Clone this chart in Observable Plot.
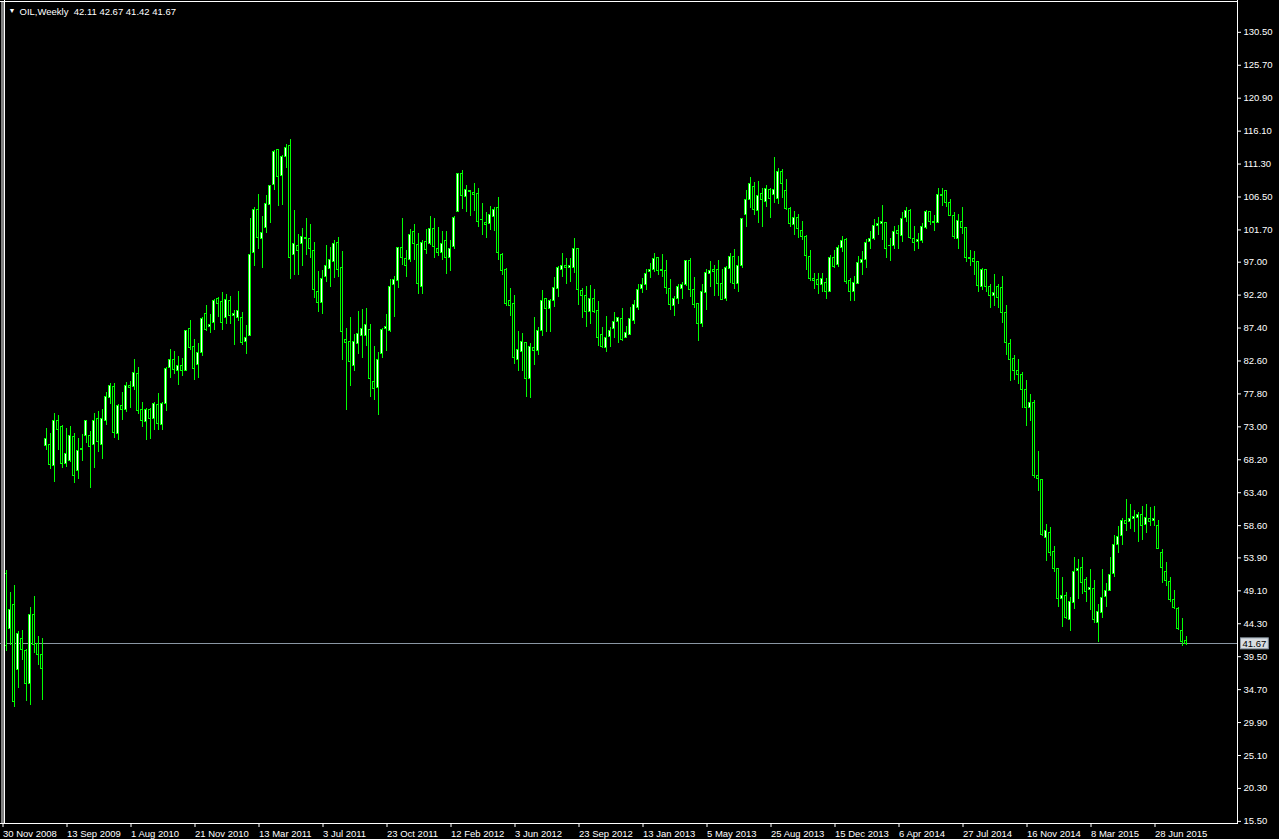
<!DOCTYPE html>
<html><head><meta charset="utf-8">
<script src="https://cdn.jsdelivr.net/npm/d3@7"></script>
<script src="https://cdn.jsdelivr.net/npm/@observablehq/plot@0.6"></script>
<style>
html,body{margin:0;padding:0;background:#000;}
#chart{width:1279px;height:839px;overflow:hidden;}
</style></head><body><div id="chart"></div>
<script>
// ---- data (weekly OIL candles, one per bar slot) ----
const opens = [51.9,43.9,47.3,37.8,42.4,40.6,35.8,45.8,41.7,40.1,
70.5,70.7,67.6,74.2,73.2,67.9,68.3,71.8,66.8,69.9,72.0,71.9,70.7,74.5,70.6,74.1,77.5,79.1,72.2,76.4,
75.8,79.2,79.1,81.0,75.7,74.0,75.7,74.5,76.5,73.6,76.6,81.9,83.1,81.4,82.2,81.5,87.5,85.0,82.3,84.0,
89.7,87.8,88.4,91.9,91.5,89.2,91.6,89.5,89.2,89.2,85.6,86.5,98.6,104.9,100.7,102.2,105.6,108.6,113.6,109.8,
112.6,114.2,98.3,99.6,100.0,100.8,100.7,98.9,93.0,91.3,95.1,96.3,97.3,100.1,96.5,86.0,85.7,82.1,85.3,86.5,
86.6,87.4,79.8,79.0,83.9,87.6,87.2,93.9,94.6,99.4,97.8,97.6,101.7,99.8,93.7,100.2,99.9,102.1,99.2,98.6,
100.4,97.9,99.5,104.6,110.1,106.8,107.6,107.4,107.2,103.4,103.0,102.9,103.9,105.2,98.3,96.1,91.6,91.2,83.1,84.2,
85.5,80.3,84.8,84.4,87.2,91.9,90.4,91.6,93.4,96.2,96.8,96.4,96.5,99.2,93.1,92.3,90.0,91.9,90.2,86.7,
84.8,86.4,87.5,88.5,89.0,86.2,86.7,88.7,90.6,93.4,93.9,95.8,96.2,97.9,96.0,96.0,93.4,90.9,91.9,93.4,
93.9,97.5,93.3,91.2,88.3,92.8,95.6,96.2,96.2,94.1,91.9,96.3,98.1,94.1,96.7,104.2,106.3,108.3,104.7,107.2,
106.0,107.8,107.1,106.5,110.5,107.6,105.1,102.7,103.7,101.8,101.0,98.1,94.9,94.7,94.0,94.3,92.9,97.9,96.9,99.4,
100.5,94.5,92.9,94.1,97.1,97.6,100.2,100.6,102.6,102.8,103.0,99.6,99.7,101.9,101.1,103.8,104.7,100.7,100.2,100.4,
102.3,104.6,103.2,103.0,107.1,107.6,105.9,104.0,100.7,103.1,102.2,97.9,97.7,97.3,93.7,96.1,93.7,92.3,93.7,93.6,
89.9,85.4,83.2,81.5,80.8,78.7,76.0,76.8,66.2,65.6,57.1,57.8,55.1,52.6,48.2,48.6,45.2,47.6,52.3,52.7,
50.9,49.5,49.7,44.7,46.1,48.5,49.4,51.9,56.1,57.4,59.5,59.4,59.8,60.0,60.4,59.0,59.9,59.5,58.8,54.9,
52.2,50.7,48.0,46.7,43.6,42.11];
const highs = [52.4,49.2,50.2,43.4,43.6,40.9,47.0,48.6,42.8,42.5,
73.0,72.3,75.2,75.0,73.5,73.0,73.4,72.3,71.6,72.2,74.2,72.6,75.3,75.5,75.8,78.3,79.6,79.6,76.6,78.3,
79.8,79.9,83.1,82.0,76.9,75.9,75.9,76.9,78.2,76.9,82.0,84.5,84.3,83.5,83.3,87.4,88.8,86.0,85.4,89.3,
91.0,89.7,91.9,92.1,92.8,92.6,92.3,90.2,93.0,89.9,88.0,103.6,105.2,107.2,104.0,107.0,108.5,113.5,113.7,112.8,
114.4,115.1,104.8,101.3,102.2,103.6,102.8,100.1,95.9,96.1,99.7,99.4,100.5,100.9,98.8,87.6,89.3,86.8,90.1,90.4,
90.6,88.2,85.0,84.1,87.6,89.7,94.7,95.2,99.5,103.6,99.0,102.0,102.8,101.4,100.5,102.0,103.9,103.6,102.4,101.7,
101.7,100.5,103.9,110.2,110.7,108.5,107.7,108.7,108.0,105.8,104.6,105.4,105.3,106.7,98.5,96.3,93.4,92.4,87.2,86.9,
85.6,85.4,89.3,87.8,93.2,92.0,91.9,95.0,96.6,98.5,97.9,97.9,100.7,99.3,93.5,93.7,93.9,93.3,91.6,87.7,
89.4,87.7,89.9,89.3,90.5,87.9,90.7,91.7,94.0,94.9,96.2,97.1,98.5,98.0,98.4,97.6,94.7,92.3,94.1,94.4,
97.5,97.9,95.1,91.2,94.0,96.2,97.4,96.8,97.5,96.2,96.7,98.5,99.2,98.1,103.6,107.7,109.6,108.9,109.1,108.1,
108.5,108.1,112.6,110.9,110.8,109.3,105.3,104.7,104.3,103.2,101.2,99.0,95.6,95.6,95.7,94.9,98.3,99.0,99.7,101.0,
100.7,94.9,95.2,98.1,98.9,100.6,101.7,103.5,103.8,105.6,103.1,100.7,102.5,102.6,104.6,105.2,104.9,102.5,101.4,102.9,
104.8,104.7,104.1,108.0,108.0,107.7,106.4,104.5,104.2,105.2,102.4,99.0,98.9,97.4,96.3,96.2,94.1,95.5,94.1,95.2,
91.0,86.0,83.7,83.1,81.2,80.1,78.0,77.1,69.7,65.6,59.1,58.6,55.9,52.7,51.3,49.1,48.4,54.2,54.0,54.2,
51.3,52.5,50.9,47.4,52.5,50.4,54.2,57.4,58.7,59.9,62.7,62.0,61.1,60.8,61.7,62.0,61.5,61.7,59.7,55.4,
53.5,51.4,49.5,46.9,45.4,42.67];
const lows = [40.5,41.4,32.4,35.1,39.2,33.2,32.7,40.2,38.5,33.4,
69.8,67.1,65.2,69.9,67.2,67.4,68.1,65.1,65.6,68.2,70.8,64.3,67.2,69.6,68.6,73.5,76.6,71.6,71.3,74.2,
75.4,75.9,78.6,75.1,73.2,71.3,71.5,72.7,72.8,72.8,75.6,80.4,80.9,79.3,80.6,81.3,84.4,80.0,80.3,83.5,
87.2,86.9,87.3,89.3,87.3,88.2,88.2,85.1,88.6,85.2,83.8,86.4,96.6,99.2,96.4,101.5,103.0,107.7,105.4,105.6,
111.0,94.8,95.4,95.3,96.6,98.3,97.8,92.0,89.9,89.7,94.4,93.6,94.9,95.1,83.0,75.7,79.2,81.3,83.9,83.3,
85.0,77.6,77.1,74.9,83.3,84.3,87.1,89.3,93.4,96.8,95.1,97.3,97.5,92.6,92.6,98.4,99.7,97.9,98.1,97.6,
95.5,96.0,99.1,104.5,104.9,104.6,103.9,104.7,102.4,101.2,100.7,101.9,101.8,97.5,95.3,90.9,89.4,82.4,81.3,81.4,
77.6,77.4,82.2,83.7,86.5,87.0,87.1,90.7,92.2,95.1,94.1,94.3,95.6,91.0,89.1,87.8,88.2,89.8,85.0,84.7,
84.1,84.8,86.2,85.4,85.7,86.1,86.6,88.2,90.2,92.7,93.2,94.9,95.8,95.4,95.1,92.6,90.2,89.4,91.1,91.8,
93.7,92.1,90.5,85.8,87.8,90.3,93.6,92.3,92.3,91.7,91.5,94.2,93.3,92.8,96.3,102.3,105.1,104.1,102.9,102.4,
105.2,103.7,105.8,105.7,106.6,104.8,102.4,101.2,100.8,100.4,96.1,94.5,93.3,92.6,92.9,91.9,92.8,96.3,96.5,98.7,
94.1,91.5,91.6,94.0,95.4,96.3,99.2,100.5,101.2,100.4,97.8,97.4,99.1,99.1,100.1,103.1,100.6,98.9,99.2,100.0,
102.0,102.6,101.8,102.9,105.4,105.3,103.9,100.6,99.1,101.3,97.3,96.7,95.4,92.8,93.2,92.8,90.6,90.8,90.6,88.3,
83.7,79.9,80.1,79.5,76.0,73.4,74.0,65.8,63.8,57.3,53.6,54.4,52.0,46.9,44.1,45.2,43.5,46.6,48.1,48.9,
47.7,46.5,44.7,41.9,45.3,47.0,49.3,51.3,54.9,56.0,58.1,58.3,57.9,56.5,56.7,57.8,58.7,58.8,55.5,50.5,
50.0,47.7,46.6,43.6,41.3,41.42];
const closes = [41.4,46.6,33.2,43.1,40.7,35.8,45.8,41.5,40.0,38.0,
71.5,67.7,74.1,72.8,67.9,69.4,71.9,66.2,69.8,70.0,74.1,70.3,74.2,71.1,74.4,77.6,79.3,72.4,76.4,75.8,
79.2,78.9,81.1,75.6,74.1,75.7,74.4,76.6,73.7,76.6,81.7,83.1,81.6,82.2,81.5,87.3,84.8,81.7,84.1,89.0,
87.4,88.2,91.7,91.2,88.4,91.8,89.4,89.7,90.2,85.5,86.3,98.4,104.9,100.8,101.6,105.8,108.4,113.4,109.7,112.6,
114.0,97.9,99.9,98.9,101.0,100.6,99.2,93.3,91.3,94.9,96.7,97.6,100.0,96.2,87.1,85.5,82.7,85.7,86.8,87.5,
88.2,80.3,78.8,83.1,87.4,87.9,93.7,94.7,99.3,97.9,96.8,101.2,100.0,94.1,100.1,99.1,102.1,99.5,98.6,99.9,
97.9,99.2,103.8,110.1,106.9,107.8,107.5,107.1,103.2,103.5,102.7,104.2,104.9,98.7,96.0,91.2,90.9,83.3,84.5,85.7,
80.3,84.9,84.4,87.2,91.6,90.4,91.6,93.6,96.4,96.7,96.5,96.7,99.2,93.3,92.3,90.0,91.9,90.1,86.2,84.9,
86.3,87.3,88.5,89.1,86.0,87.0,89.0,91.0,93.3,93.9,95.6,96.2,97.8,96.0,96.2,93.6,91.0,91.9,93.7,94.0,
97.4,93.3,91.0,88.3,92.9,95.7,96.0,95.8,94.1,91.8,96.5,98.1,94.1,96.8,103.6,106.3,108.7,104.9,107.0,106.4,
108.0,106.5,107.8,110.5,108.7,105.1,102.9,103.8,102.1,101.0,98.2,94.9,94.5,93.9,94.9,92.9,97.9,96.6,99.4,100.4,
94.4,92.9,94.3,97.1,97.6,100.1,100.6,102.5,102.8,103.1,99.2,99.7,101.7,101.4,103.6,104.7,100.8,100.1,100.5,102.4,
104.6,103.1,103.0,107.1,106.9,105.9,104.0,100.9,103.3,102.3,97.9,97.7,97.3,93.8,96.2,93.7,92.4,92.8,92.0,89.9,
85.5,83.1,81.4,80.9,78.7,76.0,76.8,66.1,65.7,57.5,58.1,54.9,52.6,48.2,48.6,45.4,47.7,52.2,52.5,50.6,
49.2,49.8,45.1,46.3,48.4,49.4,51.7,56.1,57.3,59.5,59.2,59.9,60.1,60.4,58.9,60.0,59.4,59.8,55.5,52.7,
50.8,48.1,46.9,43.8,42.0,41.67];

const dateLabels = ["30 Nov 2008","13 Sep 2009","1 Aug 2010","21 Nov 2010","13 Mar 2011","3 Jul 2011",
  "23 Oct 2011","12 Feb 2012","3 Jun 2012","23 Sep 2012","13 Jan 2013","5 May 2013","25 Aug 2013",
  "15 Dec 2013","6 Apr 2014","27 Jul 2014","16 Nov 2014","8 Mar 2015","28 Jun 2015"];
const dateLabelBars = [0,16,32,48,64,80,96,112,128,144,160,176,192,208,224,240,256,272,288];
const priceTicks = [130.50,125.70,120.90,116.10,111.30,106.50,101.70,97.00,92.20,87.40,82.60,77.80,73.00,
  68.20,63.40,58.60,53.90,49.10,44.30,39.50,34.70,29.90,25.10,20.30,15.50];
const symbolName = "OIL,Weekly";
const lastBar = [42.11, 42.67, 41.42, 41.67];
const bidPrice = 41.67;

// ---- build ----
const bars = opens.map((o, i) => ({i, open: o, high: highs[i], low: lows[i], close: closes[i], bull: closes[i] >= o}));
const GREEN = "#00ff00";
const FONT = "'Liberation Sans', Arial, sans-serif";

const chart = Plot.plot({
  width: 1279, height: 839,
  marginLeft: 0, marginTop: 0, marginRight: 42, marginBottom: 16,
  style: {background: "#000", color: "#fff", fontFamily: FONT, fontSize: "9.5px"},
  x: {domain: [-1.375, 307.875], axis: null, label: null},
  y: {domain: [15.48, 135.43], axis: null, label: null},
  marks: [
    Plot.ruleY([bidPrice], {stroke: "#8a96a3", shapeRendering: "crispEdges"}),
    Plot.ruleX(bars, {x: "i", y1: "low", y2: "high", stroke: GREEN, shapeRendering: "crispEdges"}),
    Plot.rect(bars, {x1: d => d.i - 0.25, x2: d => d.i + 0.25, y1: "open", y2: "close",
      fill: d => d.bull ? "#ffffff" : "#000000", stroke: GREEN, strokeWidth: 1, shapeRendering: "crispEdges"}),
    // window edge + chart frame
    Plot.frame({fill: "#808080", stroke: null, insetRight: 1234, shapeRendering: "crispEdges"}),
    Plot.frame({anchor: "left", insetLeft: 3.5, stroke: "#fff", shapeRendering: "crispEdges"}),
    Plot.frame({anchor: "top", insetTop: 0.5, stroke: "#fff", shapeRendering: "crispEdges"}),
    Plot.frame({anchor: "right", stroke: "#fff", shapeRendering: "crispEdges"}),
    Plot.frame({anchor: "bottom", stroke: "#fff", shapeRendering: "crispEdges"}),
    Plot.axisY(priceTicks, {anchor: "right", label: null, tickSize: 3, tickPadding: 3, dy: -2,
      tickFormat: d => d.toFixed(2), stroke: "#fff", fill: "#fff", fontSize: 9.5}),
    Plot.axisX(dateLabelBars, {anchor: "bottom", label: null, tickSize: 3, tickPadding: 3, dy: 1,
      tickFormat: d => dateLabels[dateLabelBars.indexOf(d)], textAnchor: "start", dx: -3,
      stroke: "#fff", fill: "#fff", fontSize: 9.5}),
    Plot.text([bidPrice], {y: d => d, frameAnchor: "right", dx: 5, textAnchor: "start",
      text: d => d.toFixed(2), fill: "#000", fontSize: 9.5, className: "bidlabel"}),
    Plot.text([symbolName + "  " + lastBar.map(v => v.toFixed(2)).join(" ")], {frameAnchor: "top-left",
      dx: 19, dy: 8, textAnchor: "start", fill: "#fff", fontSize: 9.5}),
    Plot.text(["▼"], {frameAnchor: "top-left", dx: 8, dy: 8, textAnchor: "start", fill: "#fff", fontSize: 7})
  ]
});
document.getElementById("chart").appendChild(chart);

// light box behind the bid price label on the price axis
d3.select(chart).selectAll(".bidlabel text").each(function() {
  const b = this.getBBox();
  d3.select(this.parentNode).insert("rect", "text")
    .attr("transform", this.getAttribute("transform"))
    .attr("x", b.x - 2).attr("y", b.y).attr("width", b.width + 4).attr("height", b.height)
    .attr("fill", "#d8dde2").attr("stroke", "#8a96a3");
});
</script></body></html>
